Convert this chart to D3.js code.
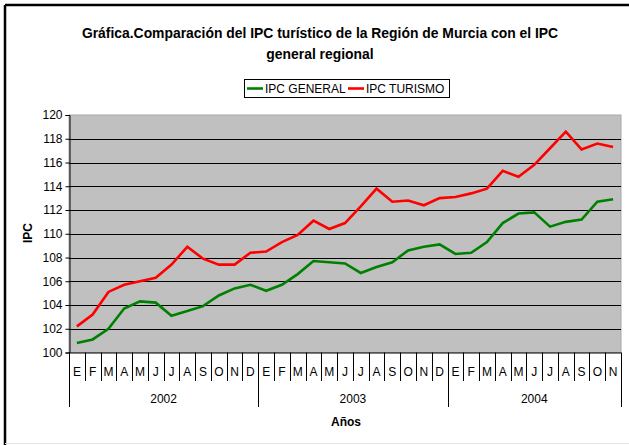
<!DOCTYPE html>
<html>
<head>
<meta charset="utf-8">
<script src="https://cdn.jsdelivr.net/npm/d3@7"></script>
<style>
  body { margin: 0; background: #fff; }
  svg text { font-family: Arial, "Liberation Sans", sans-serif; }
</style>
</head>
<body>
<svg width="629" height="445"></svg>
<script>
// data
var years = ["2002", "2003", "2004"];
var monthLabels = ["E", "F", "M", "A", "M", "J", "J", "A", "S", "O", "N", "D"];
var monthsPerYear = [12, 12, 11]; // 2004 stops at noviembre

var ipcGeneral = [
  100.8, 101.1, 102.0, 103.7, 104.3, 104.2, 103.1, 103.5, 103.9, 104.8, 105.4, 105.7,
  105.2, 105.7, 106.6, 107.7, 107.6, 107.5, 106.7, 107.2, 107.6, 108.6, 108.9, 109.1,
  108.3, 108.4, 109.3, 110.9, 111.7, 111.8, 110.6, 111.0, 111.2, 112.7, 112.9
];
var ipcTurismo = [
  102.2, 103.2, 105.1, 105.7, 106.0, 106.3, 107.4, 108.9, 107.9, 107.4, 107.4, 108.4,
  108.5, 109.3, 109.9, 111.1, 110.4, 110.9, 112.3, 113.8, 112.7, 112.8, 112.4, 113.0,
  113.1, 113.4, 113.8, 115.3, 114.8, 115.8, 117.2, 118.6, 117.1, 117.6, 117.3
];
var yTicks = [100, 102, 104, 106, 108, 110, 112, 114, 116, 118, 120];

var seriesNames = ["IPC GENERAL", "IPC TURISMO"];
var seriesColors = ["#008000", "#ff0000"];

// build the category list (one per month)
var cats = [];
years.forEach(function (y, yi) {
  for (var m = 0; m < monthsPerYear[yi]; m++) {
    cats.push({ key: y + "-" + m, month: monthLabels[m], year: y });
  }
});

var svg = d3.select("svg");

// outer chart frame (only top/left visible in the picture)
svg.append("line").attr("x1", 5).attr("y1", 5).attr("x2", 629).attr("y2", 5)
  .attr("stroke", "#000").attr("stroke-width", 2.5);
svg.append("line").attr("x1", 5).attr("y1", 5).attr("x2", 5).attr("y2", 445)
  .attr("stroke", "#000").attr("stroke-width", 2.5);
svg.append("line").attr("x1", 5).attr("y1", 443.5).attr("x2", 629).attr("y2", 443.5)
  .attr("stroke", "#e4e4e4").attr("stroke-width", 1);

var plot = { left: 69, top: 115, right: 621, bottom: 352.5 };

var x = d3.scaleBand()
  .domain(cats.map(function (d) { return d.key; }))
  .range([plot.left, plot.right])
  .paddingInner(0).paddingOuter(0);

var y = d3.scaleLinear()
  .domain([100, 120])
  .range([plot.bottom, plot.top]);

// plot area
svg.append("rect")
  .attr("x", plot.left).attr("y", plot.top)
  .attr("width", plot.right - plot.left).attr("height", plot.bottom - plot.top)
  .attr("fill", "#c0c0c0").attr("stroke", "#a8a8a8").attr("stroke-width", 1);

// gridlines
svg.append("g")
  .selectAll("line")
  .data(yTicks.slice(1, -1))
  .enter().append("line")
  .attr("x1", plot.left).attr("x2", plot.right)
  .attr("y1", function (d) { return Math.round(y(d)) + 0.5; })
  .attr("y2", function (d) { return Math.round(y(d)) + 0.5; })
  .attr("stroke", "#000").attr("stroke-width", 1);

// y axis
var yAxis = svg.append("g")
  .attr("transform", "translate(" + (plot.left + 0.5) + ",0)")
  .call(d3.axisLeft(y).tickValues(yTicks).tickSize(4).tickPadding(3)
    .tickFormat(d3.format("d")));
yAxis.select(".domain").attr("stroke", "#000");
yAxis.selectAll("text").attr("font-size", 12).attr("fill", "#000")
  .style("font-family", "Arial, 'Liberation Sans', sans-serif");

// x axis line
svg.append("line")
  .attr("x1", plot.left).attr("x2", plot.right)
  .attr("y1", plot.bottom + 0.5).attr("y2", plot.bottom + 0.5)
  .attr("stroke", "#000");

// month separators (category boundaries)
var bounds = cats.map(function (d) { return x(d.key); }).concat([plot.right]);
var yearStarts = [0];
monthsPerYear.reduce(function (acc, n) { yearStarts.push(acc + n); return acc + n; }, 0);

svg.append("g")
  .selectAll("line")
  .data(bounds)
  .enter().append("line")
  .attr("x1", function (d) { return Math.round(d) + 0.5; })
  .attr("x2", function (d) { return Math.round(d) + 0.5; })
  .attr("y1", plot.bottom)
  .attr("y2", function (d, i) { return yearStarts.indexOf(i) >= 0 ? 407 : 381; })
  .attr("stroke", "#000").attr("stroke-width", 1);

// month labels
svg.append("g")
  .selectAll("text")
  .data(cats)
  .enter().append("text")
  .attr("x", function (d) { return x(d.key) + x.bandwidth() / 2; })
  .attr("y", 376)
  .attr("text-anchor", "middle")
  .attr("font-size", 12)
  .text(function (d) { return d.month; });

// year labels
svg.append("g")
  .selectAll("text")
  .data(years)
  .enter().append("text")
  .attr("x", function (d, i) {
    return (bounds[yearStarts[i]] + bounds[yearStarts[i + 1]]) / 2;
  })
  .attr("y", 403)
  .attr("text-anchor", "middle")
  .attr("font-size", 12)
  .text(function (d) { return d; });

// axis titles
svg.append("text")
  .attr("x", 346).attr("y", 426)
  .attr("text-anchor", "middle")
  .attr("font-size", 12).attr("font-weight", "bold")
  .text("Años");

svg.append("text")
  .attr("transform", "translate(32,233) rotate(-90)")
  .attr("text-anchor", "middle")
  .attr("font-size", 12).attr("font-weight", "bold")
  .text("IPC");

// series lines
var line = d3.line()
  .x(function (d, i) { return x(cats[i].key) + x.bandwidth() / 2; })
  .y(function (d) { return y(d); });

[ipcGeneral, ipcTurismo].forEach(function (s, i) {
  svg.append("path")
    .datum(s)
    .attr("fill", "none")
    .attr("stroke", seriesColors[i])
    .attr("stroke-width", 2.6)
    .attr("stroke-linejoin", "miter")
    .attr("d", line);
});

// title
var title = svg.append("text")
  .attr("text-anchor", "middle")
  .attr("font-size", 13.9).attr("font-weight", "bold");
title.append("tspan").attr("x", 320).attr("y", 38)
  .text("Gráfica.Comparación del IPC turístico de la Región de Murcia con el IPC");
title.append("tspan").attr("x", 320).attr("y", 59)
  .text("general regional");

// legend
var legend = svg.append("g");
legend.append("rect")
  .attr("x", 244.5).attr("y", 79.5).attr("width", 205).attr("height", 18)
  .attr("fill", "#fff").attr("stroke", "#000");
var legendX = [247, 348];
seriesNames.forEach(function (n, i) {
  legend.append("line")
    .attr("x1", legendX[i]).attr("x2", legendX[i] + 16)
    .attr("y1", 88.5).attr("y2", 88.5)
    .attr("stroke", seriesColors[i]).attr("stroke-width", 2.6);
  legend.append("text")
    .attr("x", legendX[i] + 18).attr("y", 93)
    .attr("font-size", 12)
    .text(n);
});
</script>
</body>
</html>
